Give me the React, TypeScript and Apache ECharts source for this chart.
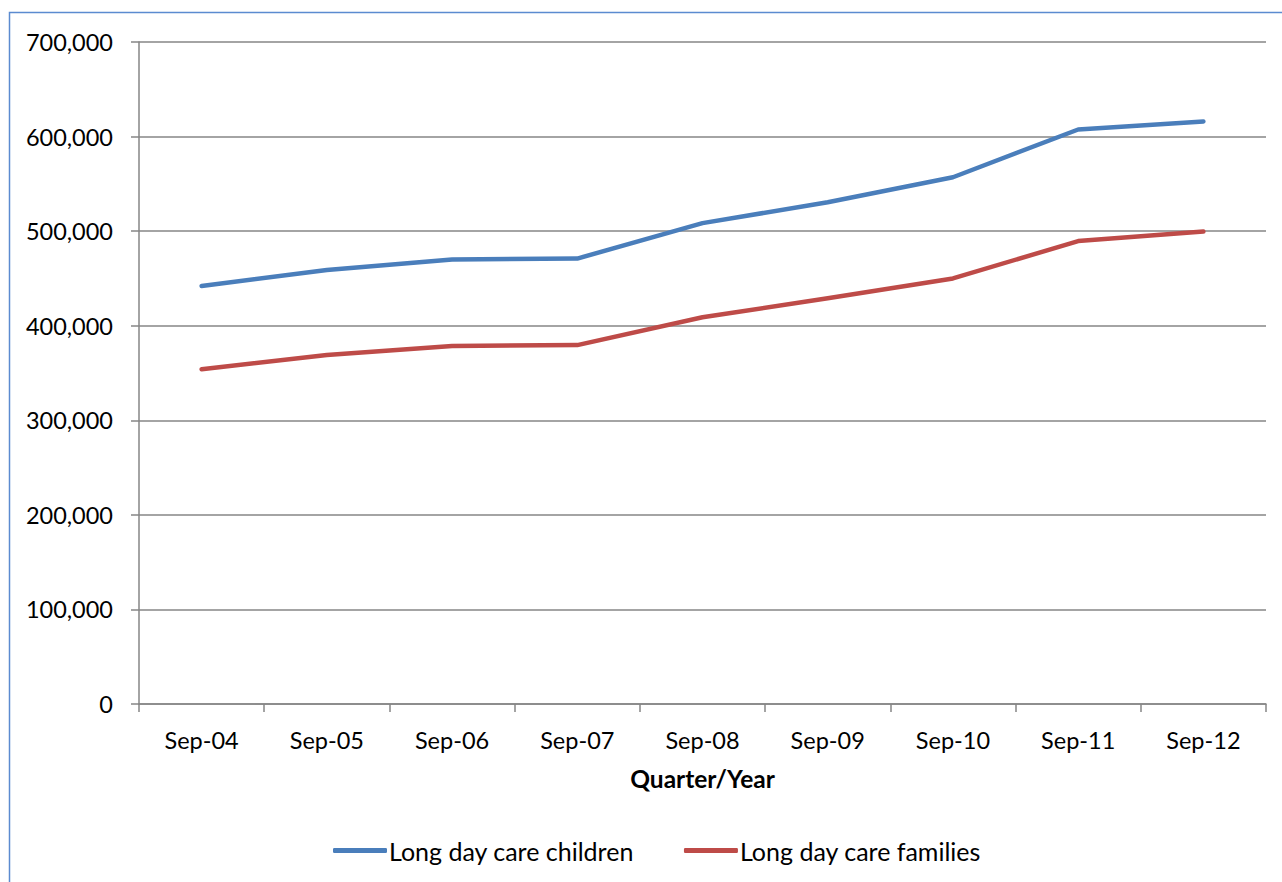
import React, { useEffect, useRef } from "react";
import * as echarts from "echarts";

const categories = ["Sep-04", "Sep-05", "Sep-06", "Sep-07", "Sep-08", "Sep-09", "Sep-10", "Sep-11", "Sep-12"];
const childrenValues = [442000, 459000, 470000, 471000, 508500, 530500, 557000, 607500, 616000];
const familiesValues = [354000, 369000, 378500, 379500, 409000, 429000, 450000, 489500, 499500];
const seriesNames = ["Long day care children", "Long day care families"];
const seriesColors = ["#4a7ebb", "#be4b48"];

const FONT = "Lato, 'Open Sans', sans-serif";

export default function App() {
  const ref = useRef<HTMLDivElement>(null);
  useEffect(() => {
    document.body.style.margin = "0";
    const chart = echarts.init(ref.current!, null, { renderer: "svg" });
    chart.setOption({
      animation: false,
      backgroundColor: "#ffffff",
      textStyle: { fontFamily: FONT },
      graphic: [
        {
          type: "rect",
          shape: { x: 9.5, y: 12.5, width: 1400, height: 1000 },
          style: { fill: "none", stroke: "#5b8bd0", lineWidth: 1.5 },
          silent: true,
        },
      ],
      grid: { left: 139, right: 16, top: 42, bottom: 178 },
      legend: {
        bottom: 19,
        left: 333,
        padding: 0,
        itemWidth: 54,
        itemHeight: 5,
        itemGap: 50,
        icon: "roundRect",
        textStyle: { fontFamily: FONT, fontSize: 25, color: "#000", padding: [0, 0, 0, -3] },
        data: seriesNames,
      },
      xAxis: {
        type: "category",
        data: categories,
        boundaryGap: true,
        name: "Quarter/Year",
        nameLocation: "middle",
        nameGap: 62,
        nameTextStyle: { fontFamily: FONT, fontSize: 24.5, fontWeight: "bold", color: "#000" },
        axisLine: { lineStyle: { color: "#868686", width: 1.5 } },
        axisTick: { show: true, length: 8, alignWithLabel: false, lineStyle: { color: "#868686", width: 1.5 } },
        axisLabel: { fontFamily: FONT, fontSize: 23.5, color: "#000", margin: 24 },
        splitLine: { show: false },
      },
      yAxis: {
        type: "value",
        min: 0,
        max: 700000,
        interval: 100000,
        axisLine: { show: true, lineStyle: { color: "#868686", width: 1.5 } },
        axisTick: { show: true, length: 8, lineStyle: { color: "#868686", width: 1.5 } },
        axisLabel: {
          fontFamily: FONT,
          fontSize: 23.5,
          color: "#000",
          margin: 26,
          formatter: (v: number) => v.toLocaleString("en-US"),
        },
        splitLine: { show: true, lineStyle: { color: "#868686", width: 1.5 } },
      },
      series: [
        {
          name: seriesNames[0],
          type: "line",
          data: childrenValues,
          symbol: "none",
          color: seriesColors[0],
          lineStyle: { width: 4.5, color: seriesColors[0], cap: "round", join: "round" },
        },
        {
          name: seriesNames[1],
          type: "line",
          data: familiesValues,
          symbol: "none",
          color: seriesColors[1],
          lineStyle: { width: 4.5, color: seriesColors[1], cap: "round", join: "round" },
        },
      ],
    });
    return () => chart.dispose();
  }, []);
  return <div ref={ref} style={{ width: 1282, height: 882 }} />;
}
